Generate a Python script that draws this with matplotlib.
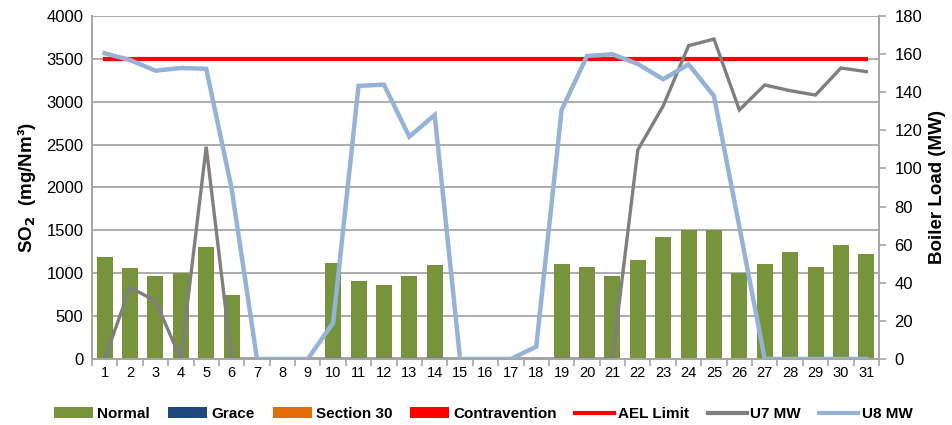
import matplotlib
matplotlib.use("Agg")
import matplotlib.pyplot as plt
import numpy as np
from matplotlib.patches import Patch
from matplotlib.lines import Line2D

plt.rcParams['font.family'] = ['Liberation Sans', 'DejaVu Sans']

days = list(range(1, 32))
normal = [1190, 1065, 970, 1000, 1306, 745, 0, 0, 0, 1120,
          905, 865, 970, 1096, 0, 0, 0, 0, 1104, 1073,
          970, 1155, 1419, 1508, 1500, 1000, 1104, 1244, 1073, 1329, 1224]
ael_limit = [3500] * 31
u7_mw = [0, 37.6, 30.4, 0, 111.4, 0, 0, 0, 0, 0,
         0, 0, 0, 0, 0, 0, 0, 0, 0, 0,
         0, 109.7, 132.8, 164.4, 167.9, 130.7, 143.8, 140.8, 138.5, 152.7, 150.8]
u8_mw = [160.4, 156.9, 151.3, 152.7, 152.3, 89.6, 0, 0, 0, 19,
         143.3, 144, 116.7, 128, 0, 0, 0, 6.5, 130.7, 159,
         159.9, 154.8, 146.8, 154.6, 138, 69.4, 0, 0, 0, 0, 0]

c_normal = '#77933C'
c_grace = '#1F497D'
c_s30 = '#E36C09'
c_contra = '#FF0000'
c_u7 = '#7F7F7F'
c_u8 = '#95B3D7'
c_grid = '#A6A6A6'

fig = plt.figure(figsize=(9.52, 4.25), dpi=100)
ax = fig.add_axes([0.0966, 0.1553, 0.8267, 0.8071])
ax2 = ax.twinx()

ax.bar(days, normal, width=0.63, color=c_normal, zorder=2)
ax.plot(days, ael_limit, color=c_contra, lw=3, zorder=3)

ax2.plot(days, u7_mw, color=c_u7, lw=2.4, solid_joinstyle='miter')
ax2.plot(days, u8_mw, color=c_u8, lw=3.2, solid_joinstyle='miter')

ax.set_xlim(0.5, 31.5)
ax.set_ylim(0, 4000)
ax2.set_ylim(0, 180)
ax.set_yticks(np.arange(0, 4001, 500))
ax2.set_yticks(np.arange(0, 181, 20))
ax.set_xticks(days)
ax.set_xticks(np.arange(0.5, 31.6, 1), minor=True)

ax.yaxis.grid(True, color=c_grid, lw=1.3, zorder=0)
ax.set_axisbelow(True)

for a in (ax, ax2):
    a.spines['top'].set_visible(False)
    for s in ('left', 'right', 'bottom'):
        a.spines[s].set_color(c_grid)
        a.spines[s].set_linewidth(1.3)

ax.tick_params(axis='x', which='major', length=0, labelsize=10.5, pad=5)
ax.tick_params(axis='x', which='minor', length=5, color=c_grid, width=1.2)
ax.tick_params(axis='y', length=0, labelsize=12, pad=6)
ax2.tick_params(axis='y', length=5, color=c_grid, width=1.2, labelsize=12, pad=6)

ax.set_ylabel('SO$_\\mathbf{2}$  (mg/Nm³)', fontsize=13.5, fontweight='bold', labelpad=6)
ax2.set_ylabel('Boiler Load (MW)', fontsize=13.5, fontweight='bold', labelpad=5)

handles = [
    Patch(facecolor=c_normal, label='Normal'),
    Patch(facecolor=c_grace, label='Grace'),
    Patch(facecolor=c_s30, label='Section 30'),
    Patch(facecolor=c_contra, label='Contravention'),
    Line2D([0], [0], color=c_contra, lw=3, label='AEL Limit'),
    Line2D([0], [0], color=c_u7, lw=3, label='U7 MW'),
    Line2D([0], [0], color=c_u8, lw=3, label='U8 MW'),
]
fig.legend(handles=handles, loc='center', bbox_to_anchor=(0.508, 0.026), ncol=7,
           frameon=False, handlelength=2.55, handleheight=0.65, handletextpad=0.26,
           columnspacing=1.2, prop={'weight': 'bold', 'size': 11})

fig.savefig('out.png', dpi=100)
